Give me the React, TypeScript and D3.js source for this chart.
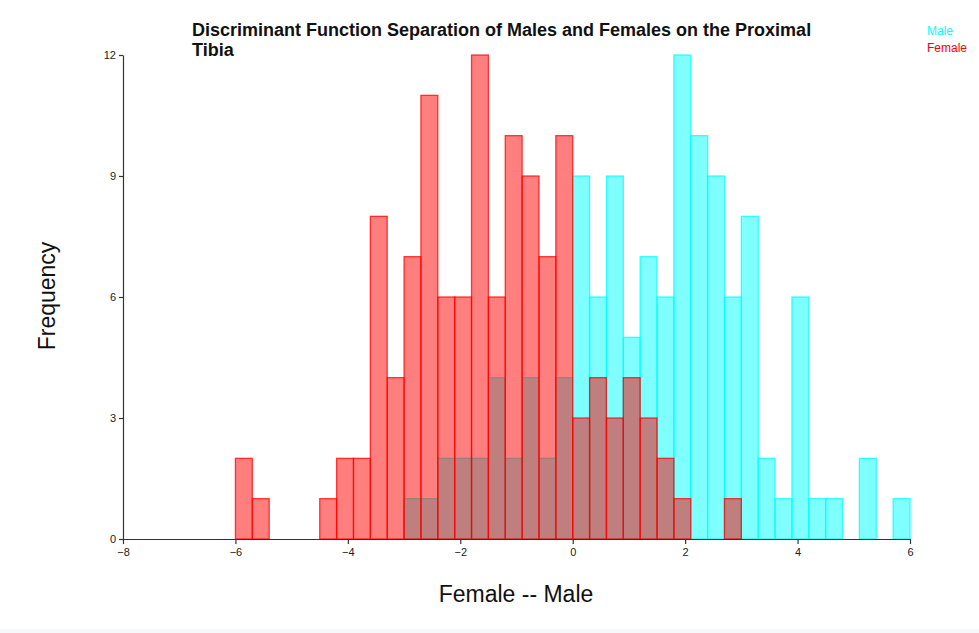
import React, { useEffect, useRef } from "react";
import * as d3 from "d3";

// histogram bins start at -6, each 0.3 wide
const binStart = -6;
const binWidth = 0.3;
const femaleCounts = [2, 1, 0, 0, 0, 1, 2, 2, 8, 4, 7, 11, 6, 6, 12, 6, 10, 9, 7, 10, 3, 4, 3, 4, 3, 2, 1, 0, 0, 1];
const maleCounts = [0, 0, 0, 0, 0, 0, 0, 0, 0, 0, 1, 1, 2, 2, 2, 4, 2, 4, 2, 4, 9, 6, 9, 5, 7, 6, 12, 10, 9, 6, 8, 2, 1, 6, 1, 1, 0, 2, 0, 1];
const xTicks = [-8, -6, -4, -2, 0, 2, 4, 6];
const yTicks = [0, 3, 6, 9, 12];
const seriesNames = ["Male", "Female"];
const seriesColors = ["#00ffff", "#ff0000"];

const FONT = "'Liberation Sans', Arial, sans-serif";

export default function App() {
  const ref = useRef<SVGSVGElement>(null);

  useEffect(() => {
    const svg = d3.select(ref.current);
    svg.selectAll("*").remove();

    const x = d3.scaleLinear().domain([-8, 6]).range([123, 910]);
    const y = d3.scaleLinear().domain([0, 12]).range([539, 55]);

    const series = [maleCounts, femaleCounts];

    // bars - male first, female over it
    series.forEach((counts, s) => {
      const bins = counts
        .map((c, i) => ({ x0: binStart + i * binWidth, x1: binStart + (i + 1) * binWidth, c }))
        .filter((d) => d.c > 0);
      svg.append("g")
        .selectAll("rect")
        .data(bins)
        .enter()
        .append("rect")
        .attr("x", (d) => x(d.x0))
        .attr("width", (d) => x(d.x1) - x(d.x0))
        .attr("y", (d) => y(d.c))
        .attr("height", (d) => y(0) - y(d.c))
        .attr("fill", seriesColors[s])
        .attr("fill-opacity", 0.5)
        .attr("stroke", seriesColors[s])
        .attr("stroke-opacity", 0.75)
        .attr("stroke-width", 1.3);
    });

    // axes
    const yAxis = svg.append("g")
      .attr("transform", "translate(123,0)")
      .call(d3.axisLeft(y).tickValues(yTicks).tickSize(4).tickSizeOuter(0).tickPadding(3));
    const xAxis = svg.append("g")
      .attr("transform", "translate(0,539)")
      .call(d3.axisBottom(x).tickValues(xTicks).tickSize(5).tickSizeOuter(0).tickPadding(4));
    [yAxis, xAxis].forEach((a) => {
      a.selectAll("path, line").attr("stroke", "#333").attr("stroke-width", 1.2);
      a.selectAll("text").attr("font-family", FONT).attr("font-size", 11).attr("fill", "#222");
    });

    // title
    const title = svg.append("text")
      .attr("x", 192)
      .attr("font-family", FONT)
      .attr("font-size", 18)
      .attr("font-weight", "bold")
      .attr("fill", "#111");
    title.append("tspan").attr("x", 192).attr("y", 36)
      .text("Discriminant Function Separation of Males and Females on the Proximal");
    title.append("tspan").attr("x", 192).attr("y", 56).text("Tibia");

    // legend
    seriesNames.forEach((name, i) => {
      svg.append("text")
        .attr("x", 927)
        .attr("y", 35 + i * 17)
        .attr("font-family", FONT)
        .attr("font-size", 12)
        .attr("fill", seriesColors[i])
        .text(name);
    });

    // axis labels
    svg.append("text")
      .attr("x", 516)
      .attr("y", 602)
      .attr("text-anchor", "middle")
      .attr("font-family", FONT)
      .attr("font-size", 23)
      .attr("fill", "#111")
      .text("Female -- Male");
    svg.append("text")
      .attr("transform", "translate(55,296) rotate(-90)")
      .attr("text-anchor", "middle")
      .attr("font-family", FONT)
      .attr("font-size", 23)
      .attr("fill", "#111")
      .text("Frequency");

    svg.append("rect")
      .attr("x", 0).attr("y", 629).attr("width", 979).attr("height", 4)
      .attr("fill", "#f6f9f9");
  }, []);

  return (
    <svg
      ref={ref}
      width={979}
      height={633}
      style={{ position: "absolute", left: 0, top: 0, background: "#fff" }}
    />
  );
}
